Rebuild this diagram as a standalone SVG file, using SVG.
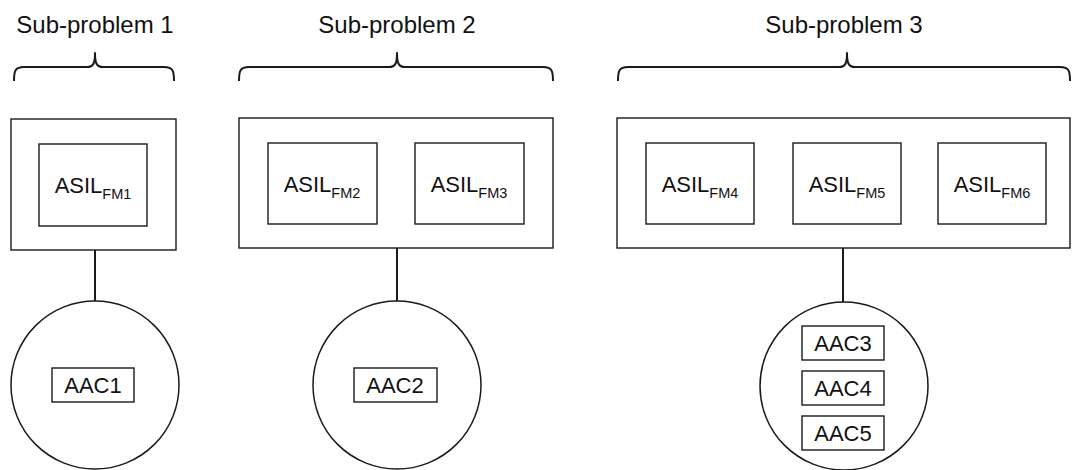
<svg xmlns="http://www.w3.org/2000/svg" width="1072" height="470" viewBox="0 0 1072 470">
  <style>
    .bg { fill: #ffffff; }
    .box { fill: #ffffff; stroke: #1a1a1a; stroke-width: 1.4; }
    .circ { fill: #ffffff; stroke: #1a1a1a; stroke-width: 1.5; }
    .brace { fill: none; stroke: #1a1a1a; stroke-width: 2; stroke-linejoin: round; }
    .link { fill: none; stroke: #1a1a1a; stroke-width: 2; }
    .title { font-family: "Liberation Sans", Arial, sans-serif; font-size: 24px; fill: #111; text-anchor: middle; }
    .asil { font-family: "Liberation Sans", Arial, sans-serif; font-size: 22px; fill: #111; text-anchor: middle; }
    .sub { font-size: 14.5px; }
    .aac { font-family: "Liberation Sans", Arial, sans-serif; font-size: 22px; fill: #111; text-anchor: middle; }
  </style>
  <rect class="bg" x="0" y="0" width="1072" height="470"/>

  <!-- headings with braces -->
  <g id="heading1">
    <text class="title" x="95" y="33">Sub-problem 1</text>
    <path class="brace" d="M14,81 C14,71 15,67 24,67 L87,67 C93,67 95,64 95,53 C95,64 97,67 103,67 L164,67 C173,67 174,71 174,81"/>
  </g>
  <g id="heading2">
    <text class="title" x="397" y="33">Sub-problem 2</text>
    <path class="brace" d="M239,81 C239,71 240,67 249,67 L389,67 C395,67 397,64 397,53 C397,64 399,67 405,67 L543,67 C552,67 553,71 553,81"/>
  </g>
  <g id="heading3">
    <text class="title" x="844" y="33">Sub-problem 3</text>
    <path class="brace" d="M618,81 C618,71 619,67 628,67 L839,67 C845,67 847,64 847,53 C847,64 849,67 855,67 L1060,67 C1069,67 1070,71 1070,81"/>
  </g>

  <!-- connectors -->
  <g id="connectors">
    <line class="link" x1="95" y1="250" x2="95" y2="301"/>
    <line class="link" x1="397" y1="248" x2="397" y2="301"/>
    <line class="link" x1="843" y1="248" x2="843" y2="302"/>
  </g>

  <!-- sub-problem 1 -->
  <g id="group1">
    <rect class="box" x="11" y="119" width="165" height="131"/>
    <g id="asil-fm1">
      <rect class="box" x="39" y="144" width="108" height="82"/>
      <text class="asil" x="93" y="193">ASIL<tspan class="sub" dy="6">FM1</tspan></text>
    </g>
  </g>
  <g id="aac-set1">
    <circle class="circ" cx="95" cy="385" r="84"/>
    <rect class="box" x="52" y="368" width="82" height="34"/>
    <text class="aac" x="93" y="393">AAC1</text>
  </g>

  <!-- sub-problem 2 -->
  <g id="group2">
    <rect class="box" x="239" y="118" width="314" height="130"/>
    <g id="asil-fm2">
      <rect class="box" x="268" y="143" width="109" height="81"/>
      <text class="asil" x="322" y="192">ASIL<tspan class="sub" dy="6">FM2</tspan></text>
    </g>
    <g id="asil-fm3">
      <rect class="box" x="415" y="143" width="109" height="81"/>
      <text class="asil" x="469" y="192">ASIL<tspan class="sub" dy="6">FM3</tspan></text>
    </g>
  </g>
  <g id="aac-set2">
    <circle class="circ" cx="397" cy="385" r="84"/>
    <rect class="box" x="354" y="368" width="83" height="34"/>
    <text class="aac" x="395" y="393">AAC2</text>
  </g>

  <!-- sub-problem 3 -->
  <g id="group3">
    <rect class="box" x="617" y="118" width="453" height="130"/>
    <g id="asil-fm4">
      <rect class="box" x="646" y="143" width="108" height="81"/>
      <text class="asil" x="700" y="192">ASIL<tspan class="sub" dy="6">FM4</tspan></text>
    </g>
    <g id="asil-fm5">
      <rect class="box" x="793" y="143" width="108" height="81"/>
      <text class="asil" x="847" y="192">ASIL<tspan class="sub" dy="6">FM5</tspan></text>
    </g>
    <g id="asil-fm6">
      <rect class="box" x="938" y="143" width="108" height="81"/>
      <text class="asil" x="992" y="192">ASIL<tspan class="sub" dy="6">FM6</tspan></text>
    </g>
  </g>
  <g id="aac-set3">
    <circle class="circ" cx="844" cy="386" r="84"/>
    <rect class="box" x="802" y="326" width="82" height="34"/>
    <text class="aac" x="843" y="351">AAC3</text>
    <rect class="box" x="802" y="371" width="82" height="34"/>
    <text class="aac" x="843" y="396">AAC4</text>
    <rect class="box" x="802" y="416" width="82" height="34"/>
    <text class="aac" x="843" y="441">AAC5</text>
  </g>
</svg>
